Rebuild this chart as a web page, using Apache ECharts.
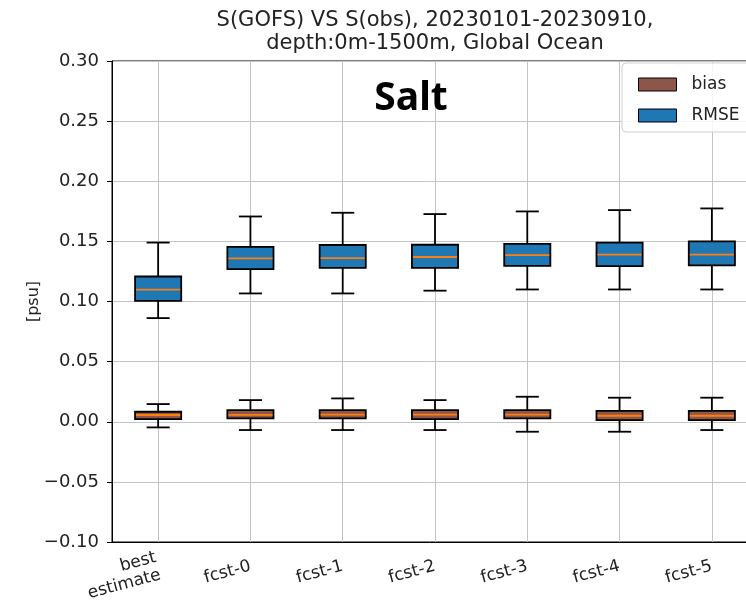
<!DOCTYPE html>
<html>
<head>
<meta charset="utf-8">
<script src="https://cdn.jsdelivr.net/npm/echarts@6/dist/echarts.min.js"></script>
<style>
  html, body { margin: 0; padding: 0; background: #fff; }
  #chart { width: 746px; height: 610px; }
</style>
</head>
<body>
<div id="chart"></div>
<script>
// Forecast lead categories along the x axis
const categories = ['best\nestimate', 'fcst-0', 'fcst-1', 'fcst-2', 'fcst-3', 'fcst-4', 'fcst-5'];

// Box statistics per category: [lower whisker, Q1, median, Q3, upper whisker] in psu
const rmseStats = [
  [0.0862, 0.1006, 0.1098, 0.1208, 0.1490],
  [0.1067, 0.1270, 0.1358, 0.1455, 0.1707],
  [0.1067, 0.1280, 0.1360, 0.1470, 0.1738],
  [0.1090, 0.1280, 0.1370, 0.1472, 0.1727],
  [0.1100, 0.1297, 0.1386, 0.1480, 0.1749],
  [0.1100, 0.1295, 0.1390, 0.1489, 0.1760],
  [0.1100, 0.1300, 0.1390, 0.1500, 0.1774]
];
const biasStats = [
  [-0.0047, 0.0022, 0.0056, 0.0083, 0.0147],
  [-0.0069, 0.0028, 0.0058, 0.0097, 0.0180],
  [-0.0069, 0.0028, 0.0060, 0.0097, 0.0194],
  [-0.0069, 0.0022, 0.0060, 0.0097, 0.0180],
  [-0.0083, 0.0028, 0.0060, 0.0097, 0.0208],
  [-0.0083, 0.0014, 0.0050, 0.0090, 0.0200],
  [-0.0069, 0.0014, 0.0050, 0.0090, 0.0200]
];

const seriesNames = ['bias', 'RMSE'];
const seriesColors = ['#8c564b', '#1f77b4'];
const medianColor = '#ff7f0e';

const yMin = -0.10, yMax = 0.30, yStep = 0.05;
const titleLines = ['S(GOFS) VS S(obs), 20230101-20230910,', 'depth:0m-1500m, Global Ocean'];
const yAxisTitle = '[psu]';
const panelLabel = 'Salt';

const FONT = '"DejaVu Sans", sans-serif';

// Draws one matplotlib-style box: box body, orange median, whiskers with half-width caps
function boxRenderer(fill) {
  return function (params, api) {
    const i = api.value(0);
    const lo = api.coord([i, api.value(1)]);
    const q1 = api.coord([i, api.value(2)]);
    const md = api.coord([i, api.value(3)]);
    const q3 = api.coord([i, api.value(4)]);
    const hi = api.coord([i, api.value(5)]);
    const band = api.size([1, 0])[0];
    const half = band * 0.25;
    const cap = half / 2;
    const x = lo[0];
    const stroke = { stroke: '#000', lineWidth: 1.8 };
    return {
      type: 'group',
      children: [
        { type: 'line', shape: { x1: x, y1: q1[1], x2: x, y2: lo[1] }, style: stroke },
        { type: 'line', shape: { x1: x, y1: q3[1], x2: x, y2: hi[1] }, style: stroke },
        { type: 'line', shape: { x1: x - cap, y1: lo[1], x2: x + cap, y2: lo[1] }, style: stroke },
        { type: 'line', shape: { x1: x - cap, y1: hi[1], x2: x + cap, y2: hi[1] }, style: stroke },
        { type: 'rect', shape: { x: x - half, y: q3[1], width: 2 * half, height: q1[1] - q3[1] },
          style: { fill: fill, stroke: '#000', lineWidth: 1.8 } },
        { type: 'line', shape: { x1: x - half + 1, y1: md[1], x2: x + half - 1, y2: md[1] },
          style: { stroke: medianColor, lineWidth: 1.8 } }
      ]
    };
  };
}

function toRows(stats) {
  return stats.map(function (s, i) { return [i].concat(s); });
}

// Two-line tick labels hang from their first line, so push them down a little
const axisCategories = categories.map(function (c) {
  return c.indexOf('\n') >= 0
    ? { value: c, textStyle: { lineHeight: 18, padding: [26, 0, 0, 0] } }
    : c;
});

const chart = echarts.init(document.getElementById('chart'), null, { renderer: 'canvas' });

chart.setOption({
  backgroundColor: '#fff',
  animation: false,
  textStyle: { fontFamily: FONT },
  graphic: [
    {
      type: 'text', x: 435, y: 9,
      style: {
        text: titleLines.join('\n'),
        font: '21px ' + FONT, fill: '#222', align: 'center', verticalAlign: 'top', lineHeight: 23
      }
    },
    {
      type: 'text', x: 411, y: 99, z: 10,
      style: {
        text: panelLabel, font: 'bold 39px "Noto Sans", sans-serif',
        fill: '#000', align: 'center', verticalAlign: 'middle'
      }
    }
  ],
  legend: {
    data: seriesNames,
    orient: 'vertical',
    left: 622, top: 63,
    padding: [13, 12, 8, 16],
    itemWidth: 38, itemHeight: 13, itemGap: 14,
    icon: 'rect',
    backgroundColor: 'rgba(255,255,255,0.85)',
    borderColor: '#d0d0d0', borderWidth: 1, borderRadius: 4,
    itemStyle: { borderColor: '#000', borderWidth: 1 },
    textStyle: { fontSize: 17, color: '#222', fontFamily: FONT, padding: [0, 0, 0, 10] }
  },
  grid: {
    left: 112, top: 61, width: 646, height: 481,
    outerBoundsMode: 'none', containLabel: false,
    show: true, borderColor: '#000', borderWidth: 1, backgroundColor: 'transparent'
  },
  xAxis: [
    {
      type: 'category', data: axisCategories, boundaryGap: true,
      axisLine: { onZero: false, lineStyle: { color: '#000', width: 1 } },
      axisTick: { alignWithLabel: true, length: 5, lineStyle: { color: '#000' } },
      splitLine: { show: true, alignWithLabel: true, lineStyle: { color: '#c4c4c4', width: 1 } },
      axisLabel: { rotate: 15, fontSize: 17, color: '#222', fontFamily: FONT, margin: 24, lineHeight: 23, interval: 0 }
    }
  ],
  yAxis: {
    type: 'value', min: yMin, max: yMax, interval: yStep,
    name: yAxisTitle, nameLocation: 'middle', nameGap: 70, nameMoveOverlap: false,
    nameTextStyle: { fontSize: 16, color: '#222', fontFamily: FONT },
    axisLine: { show: true, lineStyle: { color: '#000', width: 1 } },
    axisTick: { show: true, length: 5, lineStyle: { color: '#000' } },
    splitLine: { show: true, lineStyle: { color: '#c4c4c4', width: 1 } },
    axisLabel: {
      fontSize: 18, color: '#222', fontFamily: FONT, margin: 13,
      formatter: function (v) {
        const s = Math.abs(v).toFixed(2);
        return v < -1e-9 ? '\u2212' + s : s;
      }
    }
  },
  series: [
    {
      name: seriesNames[0], type: 'custom', data: toRows(biasStats),
      encode: { x: 0, y: [1, 2, 3, 4, 5] },
      itemStyle: { color: seriesColors[0], borderColor: '#000', borderWidth: 1 },
      renderItem: boxRenderer(seriesColors[0])
    },
    {
      name: seriesNames[1], type: 'custom', data: toRows(rmseStats),
      encode: { x: 0, y: [1, 2, 3, 4, 5] },
      itemStyle: { color: seriesColors[1], borderColor: '#000', borderWidth: 1 },
      renderItem: boxRenderer(seriesColors[1])
    }
  ]
});
</script>
</body>
</html>
